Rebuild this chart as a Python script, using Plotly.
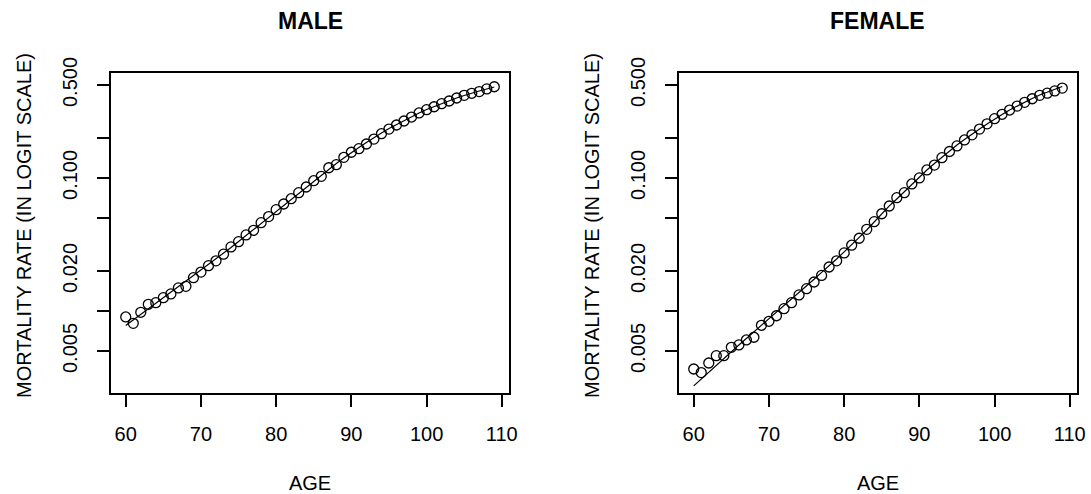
import plotly.graph_objects as go

ages = list(range(60, 110))

male_obs = [0.00901, 0.00807, 0.00977, 0.01122, 0.01154, 0.01258, 0.01342, 0.0149, 0.0153, 0.0178,
            0.0196, 0.0219, 0.0238, 0.0267, 0.0303, 0.0332, 0.0373, 0.0404, 0.0461, 0.0512,
            0.0577, 0.0637, 0.0698, 0.0775, 0.0855, 0.0953, 0.1028, 0.1193, 0.1258, 0.1429,
            0.156, 0.166, 0.180, 0.196, 0.215, 0.233, 0.250, 0.268, 0.287, 0.308,
            0.326, 0.343, 0.362, 0.379, 0.399, 0.418, 0.433, 0.446, 0.467, 0.485]

male_fit = [0.00778, 0.00855, 0.00949, 0.01044, 0.01148, 0.01262, 0.01389, 0.01528, 0.01680, 0.01849,
            0.02032, 0.02235, 0.02459, 0.02727, 0.02999, 0.03327, 0.0369, 0.04098, 0.04548, 0.0509,
            0.0565, 0.0627, 0.0695, 0.0771, 0.0855, 0.0949, 0.1052, 0.1167, 0.1285, 0.1412,
            0.1554, 0.1694, 0.1848, 0.2015, 0.2178, 0.2355, 0.2523, 0.2705, 0.2900, 0.3080,
            0.3272, 0.3447, 0.3631, 0.3823, 0.3993, 0.4169, 0.4354, 0.4507, 0.4666, 0.4830]

female_obs = [0.00366, 0.00344, 0.00406, 0.00461, 0.00461, 0.00533, 0.00555, 0.00605, 0.00634, 0.0078,
              0.00836, 0.0092, 0.0104, 0.01154, 0.0132, 0.0147, 0.0165, 0.0185, 0.0214, 0.0238,
              0.0273, 0.0312, 0.0352, 0.0411, 0.0469, 0.0538, 0.0615, 0.0711, 0.0775, 0.0901,
              0.1000, 0.1148, 0.125, 0.142, 0.158, 0.174, 0.193, 0.211, 0.233, 0.255,
              0.279, 0.301, 0.324, 0.347, 0.370, 0.394, 0.418, 0.434, 0.451, 0.474]

female_fit = [0.00273, 0.00308, 0.00348, 0.00392, 0.00436, 0.00491, 0.00555, 0.00621, 0.00695, 0.00778,
              0.00871, 0.00974, 0.0109, 0.0122, 0.0136, 0.0154, 0.0173, 0.0195, 0.0218, 0.0246,
              0.0278, 0.0313, 0.0357, 0.0406, 0.0467, 0.0536, 0.0616, 0.0695, 0.0791, 0.0901,
              0.1017, 0.1148, 0.1285, 0.1438, 0.1595, 0.1770, 0.1947, 0.2142, 0.2334, 0.2545,
              0.2774, 0.3000, 0.3243, 0.3475, 0.3724, 0.3958, 0.4205, 0.4429, 0.4666, 0.4872]

x_ticks = [60, 70, 80, 90, 100, 110]
y_tickvals = [0.005, 0.01, 0.02, 0.05, 0.1, 0.2, 0.5]
y_ticktext = ["0.005", "", "0.020", "", "0.100", "", "0.500"]

panels = [("MALE", male_obs, male_fit), ("FEMALE", female_obs, female_fit)]

FONT = "Liberation Sans, Arial, sans-serif"
W, H = 1091, 494
x_doms = [[111 / W, 509 / W], [679 / W, 1077 / W]]
y_dom = [1 - 393 / H, 1 - 73 / H]
ytitle_x = [24 / W, 592 / W]

fig = go.Figure()
for i, (title, obs, fit) in enumerate(panels):
    xa = "x" if i == 0 else "x2"
    ya = "y" if i == 0 else "y2"
    fig.add_trace(go.Scatter(x=ages, y=fit, mode="lines", xaxis=xa, yaxis=ya,
                             line=dict(color="black", width=1.2), showlegend=False))
    fig.add_trace(go.Scatter(x=ages, y=obs, mode="markers", xaxis=xa, yaxis=ya,
                             marker=dict(symbol="circle-open", size=10, color="black",
                                         line=dict(color="black", width=1.3)),
                             showlegend=False))
    sfx = "" if i == 0 else "2"
    axis_common = dict(showline=True, linecolor="black", linewidth=1.5, mirror=True,
                       ticks="outside", ticklen=12, tickcolor="black", tickwidth=1.5,
                       showgrid=False, zeroline=False, automargin=False,
                       tickfont=dict(family=FONT, size=20, color="black"))
    fig.layout["xaxis" + sfx] = dict(
        axis_common, domain=x_doms[i], anchor=ya, range=[58.04, 110.96],
        tickvals=x_ticks, ticktext=[str(v) for v in x_ticks], ticklabelstandoff=10,
        title=dict(text="AGE", font=dict(family=FONT, size=20, color="black"), standoff=32))
    fig.layout["yaxis" + sfx] = dict(
        axis_common, domain=y_dom, anchor=xa, type="log", range=[-2.617, -0.211],
        tickvals=y_tickvals, ticktext=y_ticktext, tickangle=-90, ticklabelstandoff=12)
    fig.add_annotation(text="MORTALITY RATE (IN LOGIT SCALE)", xref="paper", yref="paper",
                       x=ytitle_x[i], y=1 - 226 / H, textangle=-90,
                       xanchor="center", yanchor="middle", showarrow=False,
                       font=dict(family=FONT, size=20, color="black"))
    fig.add_annotation(text="<b>" + title + "</b>", xref="paper", yref="paper",
                       x=(x_doms[i][0] + x_doms[i][1]) / 2, y=1 - 21 / H,
                       xanchor="center", yanchor="middle", showarrow=False,
                       font=dict(family=FONT, size=23, color="black"))

fig.update_layout(width=W, height=H, autosize=False, template="none",
                  margin=dict(l=0, r=0, t=0, b=0, pad=0, autoexpand=False),
                  paper_bgcolor="white", plot_bgcolor="white")

fig.write_html("out.html")
